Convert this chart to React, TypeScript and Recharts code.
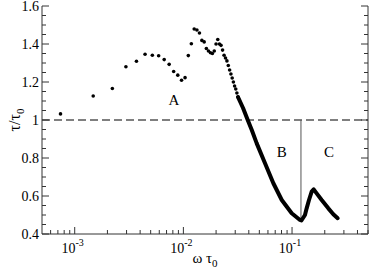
import React from "react";
import { ScatterChart, Scatter, XAxis, YAxis, ReferenceLine } from "recharts";

// sparse low-frequency points (drawn as single dots)
const sparseOmega = [
  0.00074, 0.00148, 0.00222, 0.00296, 0.0037, 0.00444, 0.00518, 0.00592, 0.00666, 0.0074,
  0.00814, 0.00888, 0.00962, 0.01036, 0.0111, 0.01184, 0.01258, 0.01332, 0.01406, 0.0148,
  0.01554, 0.01628, 0.01702, 0.01776, 0.0185, 0.01924, 0.01998, 0.02072, 0.02146, 0.0222,
  0.02294, 0.02368, 0.02442, 0.02516, 0.0259, 0.02664, 0.02738, 0.02812, 0.02886, 0.0296,
  0.03034, 0.03108, 0.03182,
];
const sparseTau = [
  1.032, 1.126, 1.166, 1.28, 1.309, 1.346, 1.341, 1.338, 1.318, 1.293,
  1.255, 1.236, 1.209, 1.223, 1.339, 1.401, 1.479, 1.474, 1.458, 1.419,
  1.411, 1.376, 1.363, 1.354, 1.35, 1.363, 1.4, 1.424, 1.4, 1.393,
  1.368, 1.341, 1.326, 1.311, 1.287, 1.263, 1.242, 1.221, 1.2, 1.179,
  1.163, 1.142, 1.121,
];

// dense part (points so close they merge into a thick curve)
const denseOmega = [
  0.0318, 0.0354, 0.0391, 0.0426, 0.0473, 0.0564, 0.0673, 0.0804, 0.0993, 0.1183, 0.122,
  0.1315, 0.1363, 0.1432, 0.1516, 0.1582, 0.1685, 0.1874, 0.2157, 0.2397, 0.263,
];
const denseTau = [
  1.121, 1.063, 1.0, 0.947, 0.877, 0.772, 0.667, 0.579, 0.509, 0.474, 0.471,
  0.5, 0.535, 0.579, 0.623, 0.635, 0.614, 0.579, 0.535, 0.504, 0.483,
];

const regionNames = ["A", "B", "C"];
const regionOmega = [0.0082, 0.0803, 0.219];
const regionTau = [1.105, 0.833, 0.83];

const splitOmega = 0.1208;
const splitTau = [1.0, 0.476];

const xMajorTicks = [0.001, 0.01, 0.1];
const xMinorTicks = [
  0.0006, 0.0007, 0.0008, 0.0009,
  0.002, 0.003, 0.004, 0.005, 0.006, 0.007, 0.008, 0.009,
  0.02, 0.03, 0.04, 0.05, 0.06, 0.07, 0.08, 0.09,
  0.2, 0.3, 0.4, 0.5,
];
const yMajorTicks = [0.4, 0.6, 0.8, 1, 1.2, 1.4, 1.6];
const yMinorTicks = [0.45, 0.5, 0.55, 0.65, 0.7, 0.75, 0.85, 0.9, 0.95, 1.05, 1.1, 1.15, 1.25, 1.3, 1.35, 1.45, 1.5, 1.55];

const sparseData = sparseOmega.map((w, i) => ({ omega: w, tau: sparseTau[i] }));
const denseData = denseOmega.map((w, i) => ({ omega: w, tau: denseTau[i] }));
const labelData = regionNames.map((name, i) => ({ omega: regionOmega[i], tau: regionTau[i], name }));

const font = "'Liberation Serif', 'Times New Roman', Times, serif";
const txt = { fontFamily: font };
const axisColor = "#333";
const xTicks = [...xMajorTicks, ...xMinorTicks].sort((a, b) => a - b);
const yTicks = [...yMajorTicks, ...yMinorTicks].sort((a, b) => a - b);

const BottomTick = (props: any) => {
  const { x, y, payload } = props;
  const major = xMajorTicks.includes(payload.value);
  const exp = Math.round(Math.log10(payload.value));
  return (
    <g>
      <line x1={x} x2={x} y1={y} y2={y - (major ? 7 : 4)} stroke={axisColor} />
      {major && (
        <text x={x - 2} y={y + 19} textAnchor="middle" style={txt} fontSize={14} fill="#000">
          10
          <tspan dy={-7} fontSize={10}>{exp}</tspan>
        </text>
      )}
    </g>
  );
};

const TopTick = (props: any) => {
  const { x, y, payload } = props;
  const major = xMajorTicks.includes(payload.value);
  return <line x1={x} x2={x} y1={y} y2={y + (major ? 7 : 4)} stroke={axisColor} />;
};

const LeftTick = (props: any) => {
  const { x, y, payload } = props;
  const major = yMajorTicks.includes(payload.value);
  return (
    <g>
      <line x1={x} x2={x + (major ? 7 : 4)} y1={y} y2={y} stroke={axisColor} />
      {major && (
        <text x={x - 3} y={y + 5} textAnchor="end" style={txt} fontSize={14} fill="#000">
          {payload.value}
        </text>
      )}
    </g>
  );
};

const RightTick = (props: any) => {
  const { x, y, payload } = props;
  const major = yMajorTicks.includes(payload.value);
  return <line x1={x} x2={x - (major ? 7 : 4)} y1={y} y2={y} stroke={axisColor} />;
};

const XTitle = (props: any) => {
  const vb = props.viewBox;
  return (
    <text x={vb.x + vb.width / 2} y={vb.y + 29} textAnchor="middle" style={txt} fontSize={15} fill="#000">
      ω τ<tspan dy={4} fontSize={11}>0</tspan>
    </text>
  );
};

const YTitle = (props: any) => {
  const vb = props.viewBox;
  const cx = 20;
  const cy = vb.y + vb.height / 2;
  return (
    <text x={cx} y={cy} transform={`rotate(-90 ${cx} ${cy})`} textAnchor="middle" style={txt} fontSize={16} fill="#000">
      τ/τ<tspan dy={4} fontSize={11}>0</tspan>
    </text>
  );
};

const App: React.FC = () => (
  <div style={{ position: "absolute", left: 0, top: 0, background: "#fff", fontFamily: font }}>
    <ScatterChart width={370} height={273} margin={{ top: 6, right: 0, left: 0, bottom: 0 }}>
      <XAxis
        dataKey="omega"
        type="number"
        scale="log"
        domain={[0.0005, 0.5]}
        allowDataOverflow
        ticks={xTicks}
        interval={0}
        height={39}
        tickSize={0}
        tickMargin={0}
        tickLine={false}
        tick={<BottomTick />}
        axisLine={{ stroke: axisColor }}
        label={{ content: (p: any) => <XTitle {...p} /> }}
      />
      <XAxis
        xAxisId="top"
        orientation="top"
        dataKey="omega"
        type="number"
        scale="log"
        domain={[0.0005, 0.5]}
        allowDataOverflow
        ticks={xTicks}
        interval={0}
        height={0}
        tickSize={0}
        tickMargin={0}
        tickLine={false}
        tick={<TopTick />}
        axisLine={{ stroke: axisColor }}
      />
      <YAxis
        dataKey="tau"
        type="number"
        domain={[0.4, 1.6]}
        allowDataOverflow
        ticks={yTicks}
        interval={0}
        width={42}
        tickSize={0}
        tickMargin={0}
        tickLine={false}
        tick={<LeftTick />}
        axisLine={{ stroke: axisColor }}
        label={{ content: (p: any) => <YTitle {...p} /> }}
      />
      <YAxis
        yAxisId="right"
        orientation="right"
        type="number"
        domain={[0.4, 1.6]}
        allowDataOverflow
        ticks={yTicks}
        interval={0}
        width={2}
        tickSize={0}
        tickMargin={0}
        tickLine={false}
        tick={<RightTick />}
        axisLine={{ stroke: axisColor }}
      />
      <ReferenceLine y={1} stroke="#000" strokeWidth={1.2} strokeDasharray="8 4" />
      <ReferenceLine
        segment={[
          { x: splitOmega, y: splitTau[0] },
          { x: splitOmega, y: splitTau[1] },
        ]}
        stroke="#555"
        strokeWidth={1}
      />
      <Scatter
        data={sparseData}
        isAnimationActive={false}
        shape={(p: any) => <circle cx={p.cx} cy={p.cy} r={1.8} fill="#000" />}
      />
      <Scatter
        data={denseData}
        isAnimationActive={false}
        line={{ stroke: "#000", strokeWidth: 4, strokeLinejoin: "round", strokeLinecap: "round" }}
        shape={() => <g />}
      />
      <Scatter
        data={labelData}
        isAnimationActive={false}
        shape={(p: any) => (
          <text x={p.cx} y={p.cy + 5} textAnchor="middle" style={txt} fontSize={15} fill="#000">
            {p.payload.name}
          </text>
        )}
      />
    </ScatterChart>
  </div>
);

export default App;
